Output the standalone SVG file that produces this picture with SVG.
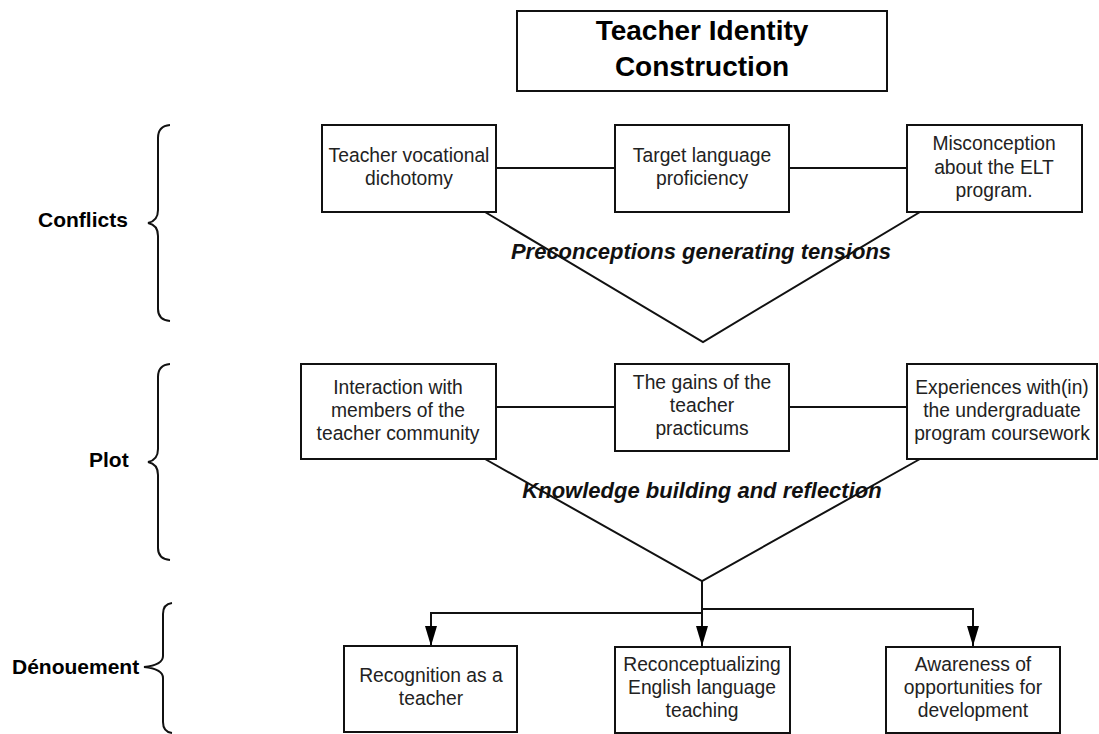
<svg xmlns="http://www.w3.org/2000/svg" width="1099" height="734" viewBox="0 0 1099 734">
<style>
.box{fill:#fff;stroke:#111;stroke-width:2}
.ln{fill:none;stroke:#111;stroke-width:2}
.t{font-family:"Liberation Sans",Arial,sans-serif;font-size:19.3px;fill:#222;text-anchor:middle}
.lab{font-family:"Liberation Sans",Arial,sans-serif;font-size:21px;font-weight:bold;fill:#000}
.title{font-family:"Liberation Sans",Arial,sans-serif;font-size:28px;font-weight:bold;fill:#000;text-anchor:middle}
.it{font-family:"Liberation Sans",Arial,sans-serif;font-size:22px;font-weight:bold;font-style:italic;fill:#111;text-anchor:middle}
</style>
<defs>
<marker id="arr" viewBox="0 0 20 12" refX="20" refY="6" markerWidth="20" markerHeight="12" markerUnits="userSpaceOnUse" orient="auto">
<path d="M0,0 L20,6 L0,12 Z" fill="#000"/>
</marker>
</defs>
<rect width="1099" height="734" fill="#fff"/>

<g id="braces">
<path class="ln" d="M170,125 Q158,126 158,138 L158,210 Q158,221 148,223 Q158,225 158,236 L158,309 Q158,320 170,321"/>
<path class="ln" d="M170,364 Q158,365 158,377 L158,449 Q158,460 148,462 Q158,464 158,475 L158,548 Q158,559 170,560"/>
<path class="ln" d="M172,603 Q163,604 163,614 L163,656 Q163,665 144,667 Q163,669 163,678 L163,722 Q163,732 172,733"/>
</g>
<g id="labels">
<text class="lab" x="38" y="227">Conflicts</text>
<text class="lab" x="89" y="467">Plot</text>
<text class="lab" x="12" y="674">Dénouement</text>
</g>

<g id="connectors">
<line class="ln" x1="496" y1="168" x2="615" y2="168"/>
<line class="ln" x1="789" y1="168" x2="907" y2="168"/>
<polyline class="ln" points="485,212 703,342 920,212"/>
<line class="ln" x1="496" y1="407" x2="615" y2="407"/>
<line class="ln" x1="789" y1="407" x2="907" y2="407"/>
<polyline class="ln" points="485,459 702,581 920,459"/>
<line class="ln" x1="702" y1="581" x2="702" y2="646" marker-end="url(#arr)"/>
<polyline class="ln" points="702,613 431,613 431,646" marker-end="url(#arr)"/>
<polyline class="ln" points="702,609 973,609 973,646" marker-end="url(#arr)"/>
<text class="it" x="701" y="259">Preconceptions generating tensions</text>
<text class="it" x="702" y="498">Knowledge building and reflection</text>
</g>

<g id="title">
<rect class="box" x="517" y="11" width="370" height="80"/>
<text class="title" x="702" y="40">Teacher Identity</text>
<text class="title" x="702" y="76">Construction</text>
</g>

<g id="c1">
<rect class="box" x="322" y="125" width="174" height="87"/>
<text class="t" x="409" y="162">Teacher vocational</text>
<text class="t" x="409" y="185">dichotomy</text>
</g>
<g id="c2">
<rect class="box" x="615" y="125" width="174" height="87"/>
<text class="t" x="702" y="162">Target language</text>
<text class="t" x="702" y="185">proficiency</text>
</g>
<g id="c3">
<rect class="box" x="907" y="125" width="175" height="87"/>
<text class="t" x="994" y="150">Misconception</text>
<text class="t" x="994" y="174">about the ELT</text>
<text class="t" x="994" y="197">program.</text>
</g>

<g id="p1">
<rect class="box" x="301" y="364" width="195" height="95"/>
<text class="t" x="398" y="394">Interaction with</text>
<text class="t" x="398" y="417">members of the</text>
<text class="t" x="398" y="440">teacher community</text>
</g>
<g id="p2">
<rect class="box" x="615" y="364" width="174" height="87"/>
<text class="t" x="702" y="389">The gains of the</text>
<text class="t" x="702" y="412">teacher</text>
<text class="t" x="702" y="435">practicums</text>
</g>
<g id="p3">
<rect class="box" x="907" y="364" width="190" height="95"/>
<text class="t" x="1002" y="394">Experiences with(in)</text>
<text class="t" x="1002" y="417">the undergraduate</text>
<text class="t" x="1002" y="440">program coursework</text>
</g>

<g id="d1">
<rect class="box" x="344" y="646" width="173" height="86"/>
<text class="t" x="431" y="682">Recognition as a</text>
<text class="t" x="431" y="705">teacher</text>
</g>
<g id="d2">
<rect class="box" x="615" y="647" width="175" height="86"/>
<text class="t" x="702" y="671">Reconceptualizing</text>
<text class="t" x="702" y="694">English language</text>
<text class="t" x="702" y="717">teaching</text>
</g>
<g id="d3">
<rect class="box" x="886" y="647" width="174" height="86"/>
<text class="t" x="973" y="671">Awareness of</text>
<text class="t" x="973" y="694">opportunities for</text>
<text class="t" x="973" y="717">development</text>
</g>
</svg>
